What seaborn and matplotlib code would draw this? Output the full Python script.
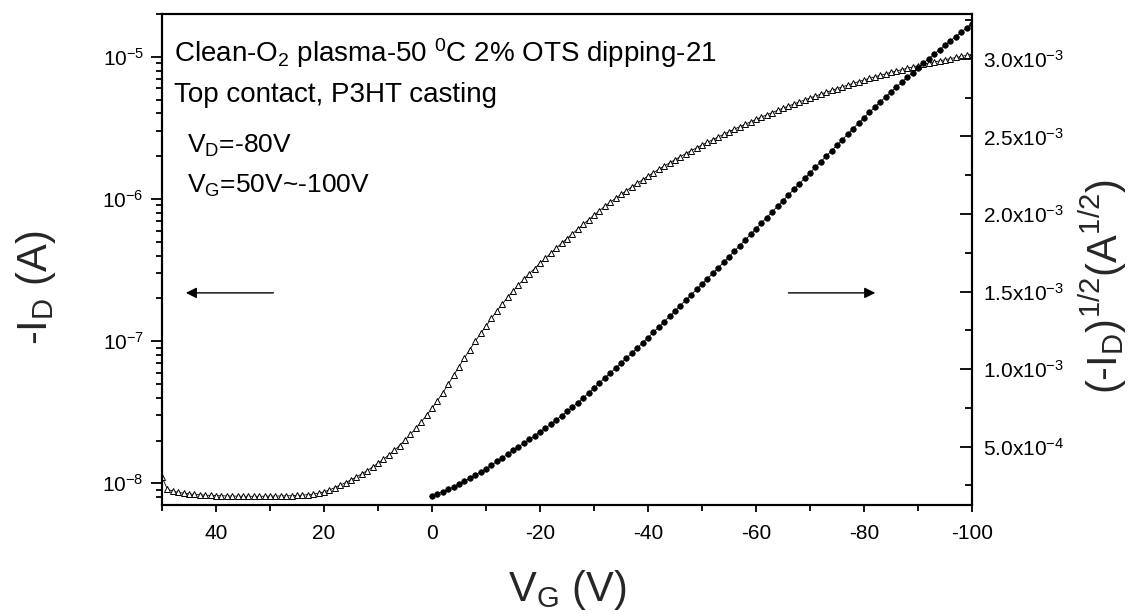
import numpy as np
import seaborn as sns
import matplotlib.pyplot as plt
from matplotlib.ticker import MultipleLocator, LogLocator, NullFormatter, FuncFormatter

# gate voltage sweep, 50 V down to -100 V in 1 V steps...
vg_sweep = np.arange(50, -101, -1)
vg_on = np.arange(0, -101, -1)

# drain current -I_D (A), one value per sweep point (50 V ... -100 V)
id_amps = [
    1.10e-8, 9.12e-9, 8.81e-9, 8.65e-9, 8.53e-9, 8.43e-9, 8.36e-9, 8.30e-9, 8.26e-9, 8.22e-9,
    8.18e-9, 8.17e-9, 8.15e-9, 8.13e-9, 8.13e-9, 8.11e-9, 8.11e-9, 8.11e-9, 8.11e-9, 8.11e-9,
    8.13e-9, 8.13e-9, 8.15e-9, 8.17e-9, 8.18e-9, 8.22e-9, 8.26e-9, 8.32e-9, 8.39e-9, 8.53e-9,
    8.71e-9, 8.99e-9, 9.33e-9, 9.71e-9, 1.012e-8, 1.057e-8, 1.109e-8, 1.167e-8, 1.230e-8, 1.303e-8,
    1.384e-8, 1.476e-8, 1.581e-8, 1.702e-8, 1.845e-8, 2.014e-8, 2.208e-8, 2.438e-8, 2.704e-8, 3.013e-8,
    3.373e-8, 3.811e-8, 4.335e-8, 4.977e-8, 5.741e-8, 6.622e-8, 7.603e-8, 8.730e-8, 9.977e-8, 1.132e-7,
    1.279e-7, 1.445e-7, 1.629e-7, 1.824e-7, 2.032e-7, 2.254e-7, 2.483e-7, 2.723e-7, 2.979e-7, 3.243e-7,
    3.532e-7, 3.828e-7, 4.150e-7, 4.508e-7, 4.887e-7, 5.272e-7, 5.689e-7, 6.138e-7, 6.622e-7, 7.145e-7,
    7.691e-7, 8.279e-7, 8.892e-7, 9.489e-7, 1.011e-6, 1.077e-6, 1.145e-6, 1.216e-6, 1.290e-6, 1.367e-6,
    1.447e-6, 1.530e-6, 1.616e-6, 1.705e-6, 1.796e-6, 1.891e-6, 1.987e-6, 2.087e-6, 2.189e-6, 2.293e-6,
    2.399e-6, 2.504e-6, 2.617e-6, 2.732e-6, 2.851e-6, 2.973e-6, 3.098e-6, 3.227e-6, 3.357e-6, 3.491e-6,
    3.628e-6, 3.768e-6, 3.910e-6, 4.055e-6, 4.202e-6, 4.352e-6, 4.504e-6, 4.658e-6, 4.814e-6, 4.972e-6,
    5.132e-6, 5.295e-6, 5.461e-6, 5.629e-6, 5.800e-6, 5.973e-6, 6.149e-6, 6.329e-6, 6.509e-6, 6.690e-6,
    6.871e-6, 7.052e-6, 7.233e-6, 7.413e-6, 7.593e-6, 7.771e-6, 7.949e-6, 8.126e-6, 8.304e-6, 8.481e-6,
    8.660e-6, 8.838e-6, 9.015e-6, 9.191e-6, 9.365e-6, 9.539e-6, 9.714e-6, 9.890e-6, 1.007e-5, 1.024e-5,
    1.042e-5,
]

# (-I_D)^1/2 in units of 1e-3 A^1/2 (0 V ... -100 V)
sqrt_id_milli = [
    0.1837, 0.1952, 0.2082, 0.2231, 0.2396, 0.2573, 0.2757, 0.2955, 0.3159, 0.3365,
    0.3576, 0.3801, 0.4036, 0.4271, 0.4508, 0.4748, 0.4983, 0.5218, 0.5458, 0.5695,
    0.5943, 0.6187, 0.6442, 0.6714, 0.6991, 0.7261, 0.7543, 0.7835, 0.8138, 0.8453,
    0.8770, 0.9099, 0.9430, 0.9741, 1.0055, 1.0378, 1.0700, 1.1027, 1.1358, 1.1692,
    1.2029, 1.2369, 1.2712, 1.3058, 1.3401, 1.3751, 1.4096, 1.4446, 1.4795, 1.5143,
    1.5489, 1.5824, 1.6177, 1.6529, 1.6885, 1.7242, 1.7601, 1.7964, 1.8322, 1.8684,
    1.9047, 1.9411, 1.9774, 2.0137, 2.0499, 2.0861, 2.1223, 2.1582, 2.1941, 2.2298,
    2.2654, 2.3011, 2.3369, 2.3726, 2.4083, 2.4440, 2.4797, 2.5157, 2.5513, 2.5865,
    2.6213, 2.6556, 2.6894, 2.7227, 2.7555, 2.7877, 2.8194, 2.8506, 2.8817, 2.9122,
    2.9428, 2.9729, 3.0025, 3.0317, 3.0602, 3.0885, 3.1168, 3.1448, 3.1733, 3.2000,
    3.2280,
]

annotation_lines = [
    r'Clean-O$_2$ plasma-50 $^0$C 2% OTS dipping-21',
    'Top contact, P3HT casting',
]
bias_lines = [r'V$_D$=-80V', r'V$_G$=50V~-100V']

# styling...
sns.set_theme(style='ticks')
plt.rcParams['font.family'] = ['Liberation Sans', 'DejaVu Sans']
plt.rcParams['mathtext.fontset'] = 'custom'
plt.rcParams['mathtext.rm'] = 'Liberation Sans'
plt.rcParams['mathtext.it'] = 'Liberation Sans:italic'
plt.rcParams['mathtext.bf'] = 'Liberation Sans:bold'
plt.rcParams['mathtext.default'] = 'regular'
plt.rcParams['axes.unicode_minus'] = False

fig = plt.figure(figsize=(11.34, 6.13), dpi=100)
fig.patch.set_facecolor('white')
ax = fig.add_axes([162 / 1134, 108 / 613, 810 / 1134, 491 / 613])
ax.set_yscale('log')

# transfer curve on the log axis...
sns.lineplot(
    x=vg_sweep, y=id_amps, ax=ax, color='black', linewidth=0.6,
    marker='^', markersize=4.5, markerfacecolor='white',
    markeredgecolor='black', markeredgewidth=0.7,
    errorbar=None, legend=False
)

ax.set_xlim(50, -100)
ax.set_ylim(7.04e-9, 2.0e-5)
ax.xaxis.set_major_locator(MultipleLocator(20))
ax.xaxis.set_minor_locator(MultipleLocator(10))
ax.yaxis.set_major_locator(LogLocator(base=10))
ax.yaxis.set_minor_locator(LogLocator(base=10, subs=np.arange(2, 10)))
ax.yaxis.set_minor_formatter(NullFormatter())
ax.yaxis.set_major_formatter(FuncFormatter(lambda v, p: r'$10^{%d}$' % int(round(np.log10(v)))))
ax.set_xlabel('')
ax.set_ylabel('')

for side in ['left', 'right', 'top', 'bottom']:
    ax.spines[side].set_linewidth(1.5)
    ax.spines[side].set_color('black')

ax.tick_params(axis='x', which='both', direction='out', top=False, bottom=True,
               labelsize=15, pad=9, colors='black', width=1.3)
ax.tick_params(axis='x', which='major', length=5)
ax.tick_params(axis='x', which='minor', length=4)
ax.tick_params(axis='y', which='both', direction='out', left=True, right=False,
               labelsize=15, pad=5, colors='black', width=1.3)
ax.tick_params(axis='y', which='major', length=8)
ax.tick_params(axis='y', which='minor', length=4.5)

# sqrt(I_D) on the right axis...
ax2 = ax.twinx()
sns.lineplot(
    x=vg_on, y=sqrt_id_milli, ax=ax2, color='black', linewidth=0.6,
    marker='o', markersize=4, markerfacecolor='black',
    markeredgecolor='black', markeredgewidth=0.5,
    errorbar=None, legend=False
)
ax2.set_xlim(50, -100)
ax2.set_ylim(0.123, 3.29)
ax2.yaxis.set_major_locator(MultipleLocator(0.5))
ax2.yaxis.set_minor_locator(MultipleLocator(0.25))


def sci_label(v, p):
    val = v * 1e-3
    if val <= 0:
        return ''
    exp = int(np.floor(np.log10(val) + 1e-9))
    return r'%.1fx10$^{%d}$' % (val / 10 ** exp, exp)


ax2.yaxis.set_major_formatter(FuncFormatter(sci_label))
ax2.set_ylabel('')
ax2.tick_params(axis='y', which='both', direction='in', right=True, left=False,
                labelsize=15, pad=8, colors='black', width=1.3)
ax2.tick_params(axis='y', which='major', length=9)
ax2.tick_params(axis='y', which='minor', length=5)
for side in ['left', 'right', 'top', 'bottom']:
    ax2.spines[side].set_linewidth(1.5)
    ax2.spines[side].set_color('black')

# text annotations inside the plot...
for i, line in enumerate(annotation_lines):
    ax.text(0.015, 0.902 - i * 0.081, line, transform=ax.transAxes,
            fontsize=20, va='baseline', ha='left', color='black')
for i, line in enumerate(bias_lines):
    ax.text(0.031, 0.717 - i * 0.082, line, transform=ax.transAxes,
            fontsize=19, va='baseline', ha='left', color='black')

# arrows pointing to the relevant axis...
arrow_style = dict(arrowstyle='-|>', color='black', lw=1.0, mutation_scale=16)
ax.annotate('', xy=(0.026, 0.432), xytext=(0.141, 0.432),
            xycoords='axes fraction', textcoords='axes fraction', arrowprops=arrow_style)
ax.annotate('', xy=(0.884, 0.432), xytext=(0.770, 0.432),
            xycoords='axes fraction', textcoords='axes fraction', arrowprops=arrow_style)

# axis titles...
fig.text(36 / 1134, 1 - 288 / 613, r'-I$_D$ (A)', rotation=90,
         ha='center', va='center', fontsize=30)
fig.text(1103 / 1134, 1 - 287 / 613, r'(-I$_D$)$^{1/2}$(A$^{1/2}$)', rotation=90,
         ha='center', va='center', fontsize=30)
fig.text(567 / 1134, 1 - 590 / 613, r'V$_G$ (V)', ha='center', va='center', fontsize=30)

fig.savefig('out.png', dpi=100, facecolor='white')
